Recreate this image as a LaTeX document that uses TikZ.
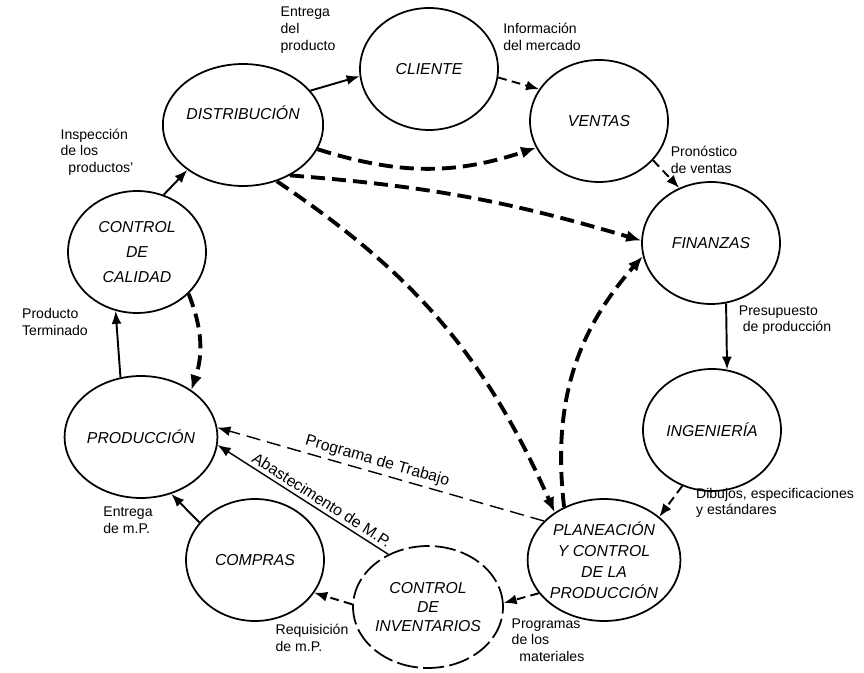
\documentclass[tikz,border=0pt]{standalone}
\usepackage{fontspec}
\setmainfont{Liberation Sans}
\usetikzlibrary{arrows.meta,shapes.geometric}

\begin{document}
\begin{tikzpicture}[x=0.02cm,y=0.02cm,dept/.style={ellipse,draw,line width=1pt,minimum width=2.76cm,minimum height=2.44cm,inner sep=0pt,align=center,font=\small\itshape},flow/.style={-{Latex[length=2.6mm,width=2mm]},line width=1.1pt},info/.style={flow,dash pattern=on 5pt off 3pt},heavy/.style={-{Latex[length=3mm,width=2.4mm]},line width=2.2pt,dash pattern=on 8pt off 4pt},thinflow/.style={-{Latex[length=2.6mm,width=2mm]},line width=.8pt},note/.style={font=\footnotesize,align=left,inner sep=1pt},along/.style={font=\small,sloped,inner sep=2pt}]
 \useasboundingbox (0,0) rectangle (864,672);
 % departamentos
 \node[dept] (cliente) at (429,603) {CLIENTE};
 \node[dept] (ventas) at (599,551) {VENTAS};
 \node[dept] (distribucion) at (243,547) {DISTRIBUCIÓN\\[3pt]};
 \node[dept] (finanzas) at (711,429) {FINANZAS};
 \node[dept] (calidad) at (137,420) {CONTROL\\[3pt]DE\\[3pt]CALIDAD};
 \node[dept] (ingenieria) at (712,242) {INGENIERÍA};
 \node[dept] (produccion) at (141,235) {PRODUCCIÓN};
 \node[dept] (compras) at (255,112) {COMPRAS};
 \node[dept,dash pattern=on 12pt off 3pt] (inventarios) at (428,65) {CONTROL\\DE\\INVENTARIOS};
 \node[dept] (planeacion) at (604,112) {PLANEACIÓN\\[1pt]Y CONTROL\\[1pt]DE LA\\[1pt]PRODUCCIÓN};
 % flujo principal
 \draw[flow] (distribucion.27)--(cliente.186);
 \draw[info] (cliente.-7)--(ventas.152);
 \draw[info] (ventas.-36)--(finanzas.120);
 \draw[flow] (finanzas.-76)--(ingenieria.76);
 \draw[info] (ingenieria.242)--(planeacion.38);
 \draw[info] (planeacion.207)--(inventarios.3);
 \draw[info] (inventarios.178)--(compras.-29);
 \draw[flow] (compras.146)--(produccion.-62);
 \draw[flow] (produccion.109)--(calidad.250);
 \draw[flow] (calidad.65)--(distribucion.219);
 % retroalimentacion
 \draw[heavy] (calidad.-39) to[bend left=20] (produccion.43);
 \draw[heavy] (distribucion.-18) to[bend right=18] (ventas.203);
 \draw[heavy] (distribucion.-47) to[bend left=6] (finanzas.178);
 \draw[heavy] (distribucion.-59) to[bend left=16] (planeacion.136);
 \draw[heavy] (planeacion.127) to[bend left=24] (finanzas.191);
 \draw[thinflow,dash pattern=on 8pt off 4pt] (planeacion.147)--node[along,above,pos=.52]{Programa de Trabajo}(produccion.7);
 \draw[thinflow] (inventarios.127)--node[along,above,pos=.42]{Abastecimento de M.P.}(produccion.-6);
 % notas
 \node[note] at (308,642) {Entrega\\del\\producto};
 \node[note] at (542,635) {Información\\del mercado};
 \node[note] at (704,512) {Pronóstico\\de ventas};
 \node[note] at (785,352) {Presupuesto\\\ de producción};
 \node[note] at (775,169) {Dibujos, especificaciones\\y estándares};
 \node[note] at (548,32) {Programas\\de los\\\ \ materiales};
 \node[note] at (312,34) {Requisición\\de m.P.};
 \node[note] at (128,152) {Entrega\\de m.P.};
 \node[note] at (55,350) {Producto\\Terminado};
 \node[note] at (97,520) {Inspección\\de los\\\ \ productos'};
\end{tikzpicture}
\end{document}
